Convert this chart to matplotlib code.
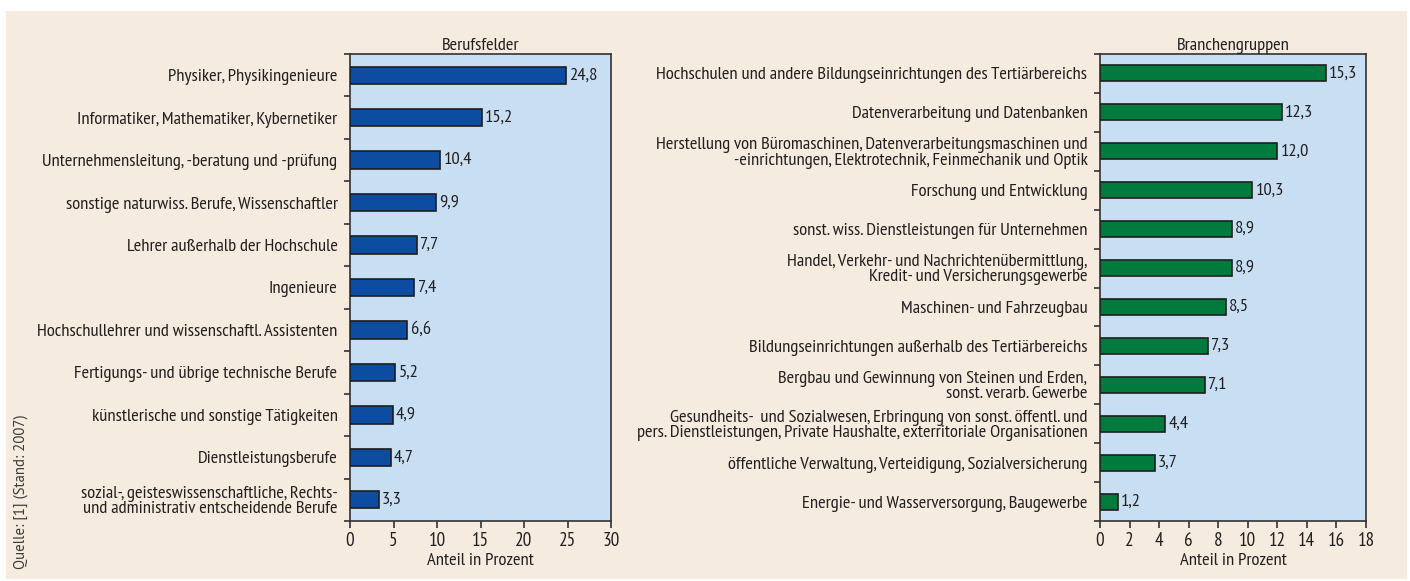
import matplotlib
matplotlib.use("Agg")
import matplotlib.pyplot as plt
from matplotlib.patches import Rectangle
import numpy as np

# data
beruf_labels = [
    "Physiker, Physikingenieure",
    "Informatiker, Mathematiker, Kybernetiker",
    "Unternehmensleitung, -beratung und -prüfung",
    "sonstige naturwiss. Berufe, Wissenschaftler",
    "Lehrer außerhalb der Hochschule",
    "Ingenieure",
    "Hochschullehrer und wissenschaftl. Assistenten",
    "Fertigungs- und übrige technische Berufe",
    "künstlerische und sonstige Tätigkeiten",
    "Dienstleistungsberufe",
    "sozial-, geisteswissenschaftliche, Rechts-\nund administrativ entscheidende Berufe",
]
beruf_values = [24.8, 15.2, 10.4, 9.9, 7.7, 7.4, 6.6, 5.2, 4.9, 4.7, 3.3]

branche_labels = [
    "Hochschulen und andere Bildungseinrichtungen des Tertiärbereichs",
    "Datenverarbeitung und Datenbanken",
    "Herstellung von Büromaschinen, Datenverarbeitungsmaschinen und\n-einrichtungen, Elektrotechnik, Feinmechanik und Optik",
    "Forschung und Entwicklung",
    "sonst. wiss. Dienstleistungen für Unternehmen",
    "Handel, Verkehr- und Nachrichtenübermittlung,\nKredit- und Versicherungsgewerbe",
    "Maschinen- und Fahrzeugbau",
    "Bildungseinrichtungen außerhalb des Tertiärbereichs",
    "Bergbau und Gewinnung von Steinen und Erden,\nsonst. verarb. Gewerbe",
    "Gesundheits-  und Sozialwesen, Erbringung von sonst. öffentl. und\npers. Dienstleistungen, Private Haushalte, exterritoriale Organisationen",
    "öffentliche Verwaltung, Verteidigung, Sozialversicherung",
    "Energie- und Wasserversorgung, Baugewerbe",
]
branche_values = [15.3, 12.3, 12.0, 10.3, 8.9, 8.9, 8.5, 7.3, 7.1, 4.4, 3.7, 1.2]

plt.rcParams["font.family"] = ["PT Sans Narrow", "DejaVu Sans"]
FS = 13.3
TXT = "#231f20"
W, H = 1410, 581

fig = plt.figure(figsize=(W / 100, H / 100), dpi=100, facecolor="white")
fig.patches.append(Rectangle((6 / W, 2 / H), 1401 / W, 568 / H, transform=fig.transFigure,
                             facecolor="#F5EBDE", edgecolor="none", zorder=-10))


def panel(rect, labels, values, color, title, xmax, xstep):
    ax = fig.add_axes(rect)
    ax.set_facecolor("#C8DFF3")
    n = len(values)
    y = np.arange(n)
    ax.barh(y, values, height=0.41, color=color, edgecolor="#1e1e1e", linewidth=1.2, zorder=3)
    for yi, v in zip(y, values):
        ax.text(v + xmax * 0.012, yi, f"{v:.1f}".replace(".", ","), va="center", ha="left",
                fontsize=FS, color=TXT)
    ax.set_ylim(n - 0.5, -0.5)
    ax.set_xlim(0, xmax)
    ax.set_yticks(y)
    ax.set_yticklabels(labels, fontsize=FS, color=TXT, linespacing=0.95)
    ax.set_yticks(np.arange(n + 1) - 0.5, minor=True)
    ax.tick_params(axis="y", which="major", length=0, pad=9)
    ax.tick_params(axis="y", which="minor", length=4, width=1.2, color="#333333")
    ax.set_xticks(np.arange(0, xmax + 0.1, xstep))
    ax.tick_params(axis="x", length=5, width=1.2, color="#333333", labelsize=FS + 0.5,
                   labelcolor=TXT, pad=3)
    for s in ax.spines.values():
        s.set_color("#333333")
        s.set_linewidth(1.2)
    ax.set_xlabel("Anteil in Prozent", fontsize=FS, color=TXT, labelpad=2)
    ax.set_title(title, fontsize=FS, color=TXT, pad=3)
    return ax


panel([350 / W, 60 / H, 261 / W, 467 / H], beruf_labels, beruf_values, "#0C4DA2",
      "Berufsfelder", 30, 5)
panel([1100 / W, 60 / H, 266 / W, 467 / H], branche_labels, branche_values, "#007A3D",
      "Branchengruppen", 18, 2)

fig.text(21 / W, (581 - 492) / H, "Quelle: [1] (Stand: 2007)", rotation=90, ha="center", va="center",
         fontsize=10.6, color="#3a3a3a", family=["PT Sans", "DejaVu Sans"])

fig.savefig("out.png", dpi=100, facecolor=fig.get_facecolor())
